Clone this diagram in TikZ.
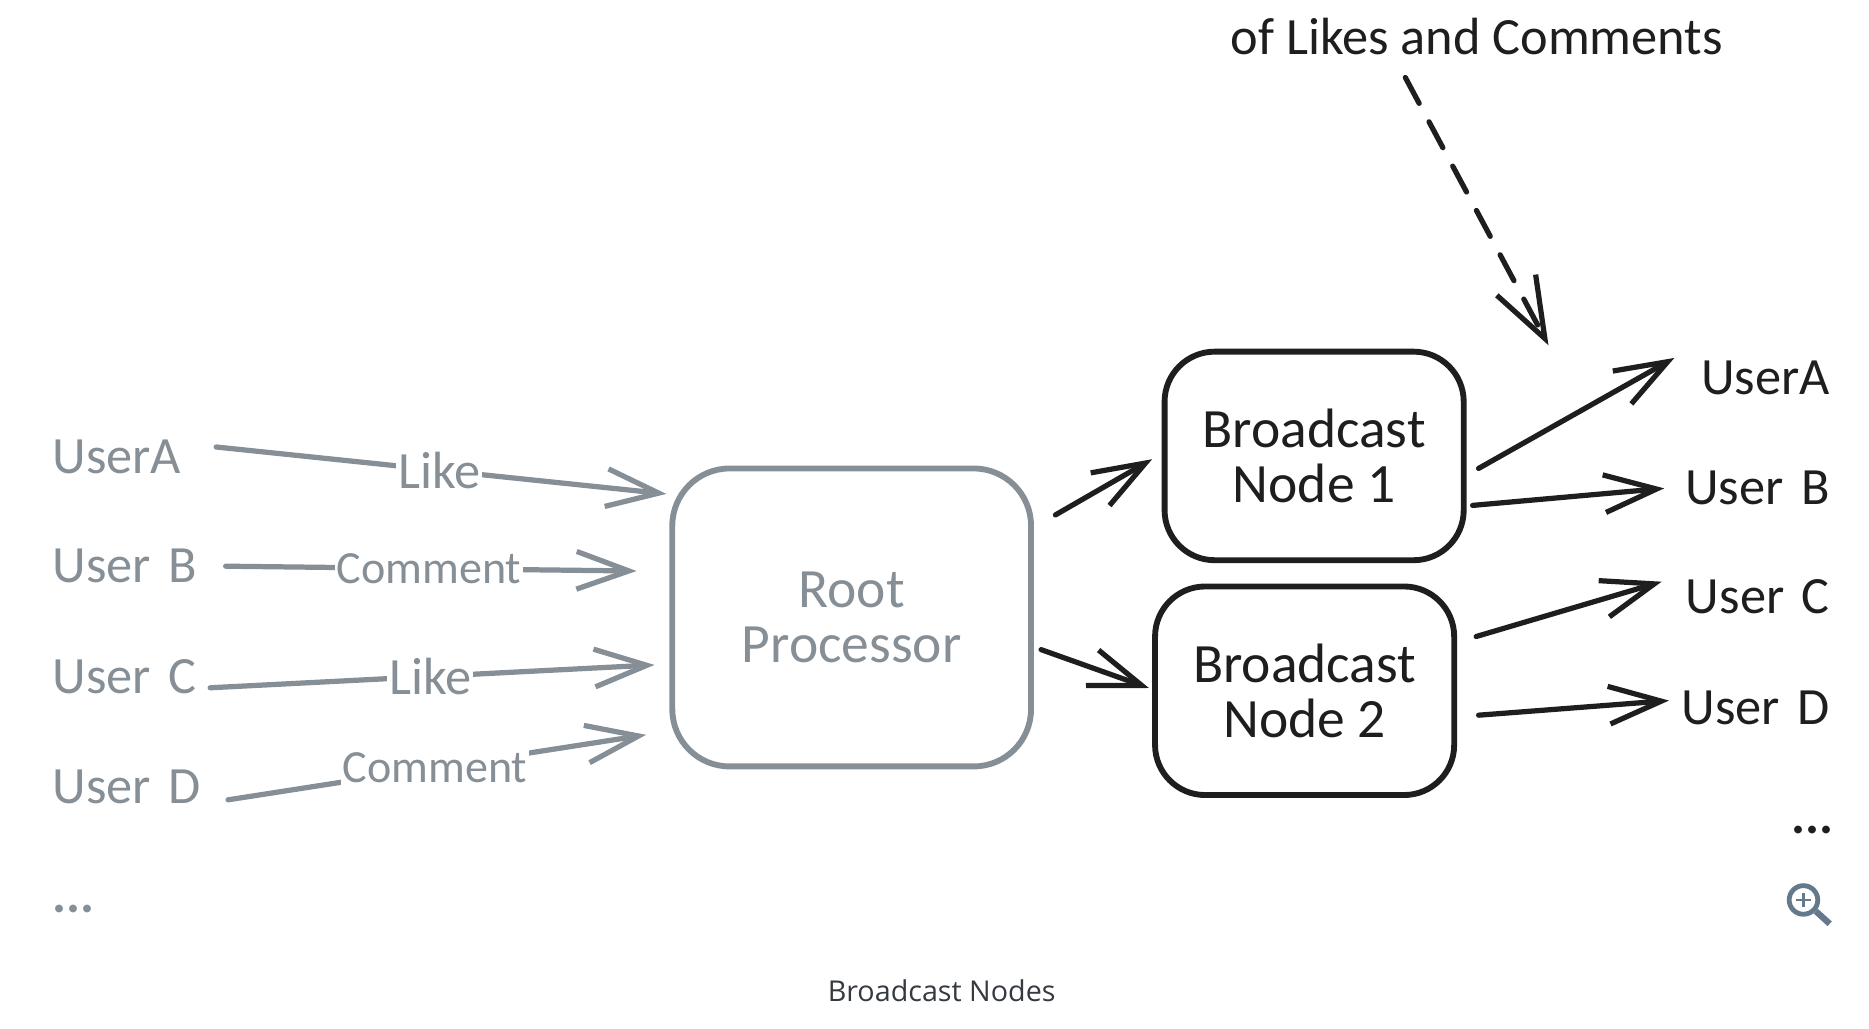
\documentclass[tikz,border=0pt]{standalone}
\usepackage{fontspec}
\setmainfont{Carlito}
\newfontfamily\captionfont{Open Sans}
\usetikzlibrary{arrows.meta}
\definecolor{inkgrey}{HTML}{868E96}
\definecolor{inkblack}{HTML}{1E1E1E}
\definecolor{iconblue}{HTML}{64798B}
\definecolor{capgrey}{HTML}{343A40}

\begin{document}
\begin{tikzpicture}[x=0.02cm, y=-0.02cm, every node/.style={font=\fontsize{25}{26}\selectfont},
    box/.style={draw, rectangle, rounded corners=42*0.02cm, line width=2.8pt, align=center, minimum width=5.02cm, minimum height=3.5cm, font=\fontsize{26.5}{26}\selectfont},
    lefttext/.style={text width=2.6cm, inner sep=0pt, align=left},
    righttext/.style={text width=2.6cm, inner sep=0pt, align=right},
    dots/.style={font=\fontsize{25}{26}\selectfont\bfseries},
    tag/.style={fill=white, inner sep=1pt},
    longtag/.style={tag, font=\fontsize{22}{26}\selectfont},
    n/.style={-{Straight Barb[length=25pt, width=18pt, line width=2.5pt]}, line width=2.5pt, line cap=round, shorten >=-2pt},
    d/.style={-{Straight Barb[length=29pt, width=21pt, line width=2.5pt]}, line width=2.5pt, line cap=round, dash pattern=on 14pt off 10pt, shorten >=-2pt}]
    \useasboundingbox (0,0) rectangle (1568,863);
    % nodes
    \node[lefttext, inkgrey] (ua) at (109,383) {UserA};
    \node[lefttext, inkgrey] (ub) at (109,475) {User B};
    \node[lefttext, inkgrey] (uc) at (109,568) {User C};
    \node[lefttext, inkgrey] (ud) at (109,660) {User D};
    \node[lefttext, inkgrey, dots] (lmore) at (109,763) {...};
    \node[box, inkgrey, rounded corners=48*0.02cm, minimum width=6.02cm, minimum height=5cm] (root) at (714.5,518) {Root\\Processor};
    \node[box, inkblack] (bn1) at (1102.5,382.5) {Broadcast\\Node 1};
    \node[box, inkblack] (bn2) at (1094.5,579.5) {Broadcast\\Node 2};
    \node[righttext, inkblack] (ra) at (1470,317) {UserA};
    \node[righttext, inkblack] (rb) at (1470,409) {User B};
    \node[righttext, inkblack] (rc) at (1470,501) {User C};
    \node[righttext, inkblack] (rd) at (1470,594) {User D};
    \node[righttext, inkblack, dots] (rmore) at (1473,696) {...};
    \node[inkblack] (likes) at (1239,31) {of Likes and Comments};
    \node[capgrey, font=\captionfont\fontsize{13.7}{17}\selectfont] (caption) at (790,831) {Broadcast Nodes};
    \node[draw=iconblue, circle, line width=2.3pt, inner sep=0pt, minimum size=0.48cm] (lens) at (1513,755) {};
    % edges
    \draw[n, inkgrey] ([shift={(7,-8)}]ua.east) -- node[tag] {Like} ([shift={(-6,-104)}]root.west);
    \draw[n, inkgrey] ([shift={(15,0)}]ub.east) -- node[longtag] {Comment} ([shift={(-31,-39)}]root.west);
    \draw[n, inkgrey] ([shift={(2,9)}]uc.east) -- node[tag] {Like} ([shift={(-16,40)}]root.west);
    \draw[n, inkgrey] ([shift={(17,11)}]ud.east) -- node[longtag] {Comment} ([shift={(-23,99)}]root.west);
    \draw[n, inkblack] ([shift={(18,-86)}]root.east) -- ([shift={(-11,4.5)}]bn1.west);
    \draw[n, inkblack] ([shift={(6,27)}]root.east) -- ([shift={(-6,-3.5)}]bn2.west);
    \draw[n, inkblack] ([shift={(10,10.5)}]bn1.east) -- ([shift={(-3,-15)}]ra.west);
    \draw[n, inkblack] ([shift={(5,41.5)}]bn1.east) -- ([shift={(-12,1)}]rb.west);
    \draw[n, inkblack] ([shift={(16,-45.5)}]bn2.east) -- ([shift={(-14,-12)}]rc.west);
    \draw[n, inkblack] ([shift={(18,20.5)}]bn2.east) -- ([shift={(-8,-6)}]rd.west);
    \draw[d, inkblack] ([shift={(-60,34)}]likes.center) -- ([shift={(67,-6)}]bn1.north east);
    % zoom icon
    \coordinate (handle) at (1535,775);
    \draw[iconblue, line width=3pt] (lens) -- (handle);
    \draw[iconblue, line width=1.1pt] ([xshift=-0.12cm]lens.center) -- ([xshift=0.12cm]lens.center);
    \draw[iconblue, line width=1.1pt] ([yshift=-0.12cm]lens.center) -- ([yshift=0.12cm]lens.center);
\end{tikzpicture}
\end{document}
